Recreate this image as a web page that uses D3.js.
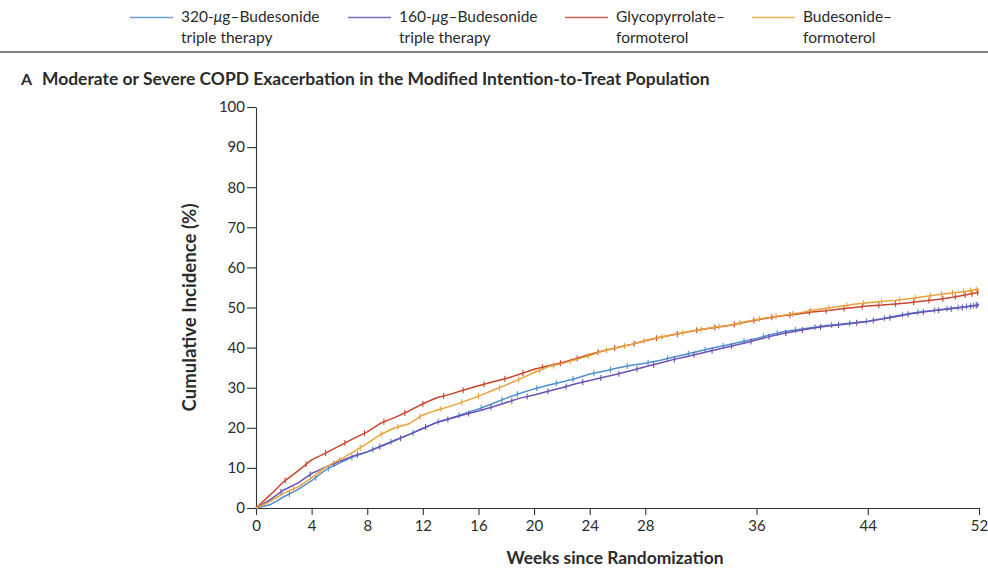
<!DOCTYPE html>
<html>
<head>
<meta charset="utf-8">
<script src="https://cdn.jsdelivr.net/npm/d3@7"></script>
<style>
  body { margin: 0; background: #fff; }
  svg { display: block; }
  text { font-family: Lato, "Open Sans", sans-serif; fill: #2b2b2b; }
</style>
</head>
<body>
<svg id="chart" width="988" height="568"></svg>
<script>
// Weeks since randomization (grid of the estimates below)
const weeks = d3.range(0, 53);

// Cumulative incidence (%) of moderate or severe COPD exacerbation, by week
const bud320Triple = [0, 0.8, 2.8, 4.6, 6.8, 9.5, 11.2, 12.8, 14.0, 15.5, 17.0, 18.3, 19.8, 21.4, 22.4, 23.6, 24.7, 26.0, 27.4, 28.6, 29.7, 30.6, 31.4, 32.3, 33.4, 34.1, 34.9, 35.6, 36.1, 36.8, 37.6, 38.4, 39.2, 40.0, 40.7, 41.5, 42.3, 43.2, 44.0, 44.5, 45.0, 45.5, 45.8, 46.2, 46.6, 47.2, 47.9, 48.5, 49.0, 49.4, 49.8, 50.2, 50.7];
const bud160Triple = [0, 2.0, 4.5, 6.2, 8.6, 10.2, 11.6, 13.0, 14.0, 15.4, 16.8, 18.3, 19.9, 21.3, 22.3, 23.3, 24.2, 25.2, 26.3, 27.4, 28.2, 29.1, 30.0, 31.0, 31.8, 32.6, 33.4, 34.3, 35.2, 36.1, 37.0, 37.8, 38.6, 39.4, 40.2, 41.0, 41.9, 42.8, 43.6, 44.2, 44.8, 45.3, 45.7, 46.1, 46.5, 47.1, 47.7, 48.4, 48.9, 49.3, 49.7, 50.1, 50.6];
const glycoFormo   = [0, 3.2, 6.6, 9.2, 12.0, 13.7, 15.5, 17.3, 19.0, 21.2, 22.6, 24.2, 26.0, 27.5, 28.4, 29.5, 30.5, 31.4, 32.3, 33.4, 34.6, 35.4, 36.2, 37.2, 38.3, 39.2, 40.0, 40.8, 41.7, 42.5, 43.2, 43.9, 44.5, 45.0, 45.5, 46.2, 46.9, 47.5, 48.0, 48.4, 48.9, 49.2, 49.6, 50.0, 50.4, 50.6, 50.9, 51.2, 51.6, 52.0, 52.5, 53.1, 53.8];
const budesoFormo  = [0, 1.6, 3.7, 5.2, 7.5, 10.2, 12.0, 14.0, 16.1, 18.4, 20.0, 21.0, 23.2, 24.4, 25.4, 26.6, 27.9, 29.3, 30.7, 32.2, 33.8, 35.2, 36.0, 37.0, 38.0, 39.2, 40.0, 40.8, 41.8, 42.5, 43.2, 43.9, 44.5, 45.1, 45.6, 46.3, 47.0, 47.6, 48.1, 48.6, 49.3, 49.8, 50.3, 50.8, 51.2, 51.5, 51.8, 52.2, 52.7, 53.2, 53.6, 54.0, 54.6];

// Weeks at which censored observations are marked on each curve
const cens320 = [2.4, 4.3, 5.2, 6.9, 8.4, 9.7, 11.3, 13.1, 14.6, 16.2, 17.7, 18.8, 20.2, 21.6, 22.8, 24.3, 25.5, 26.7, 28.2, 29.6, 31.1, 32.3, 33.6, 35.1, 36.5, 37.5, 38.8, 40.2, 41.4, 42.7, 43.9, 45.2, 46.5, 47.6, 48.8, 49.7, 50.5, 51.1, 51.6, 51.9];
const cens160 = [1.8, 3.9, 5.6, 7.3, 8.9, 10.4, 12.2, 13.8, 15.3, 16.9, 18.4, 19.5, 21.0, 22.3, 23.5, 24.8, 26.1, 27.4, 28.6, 30.1, 31.5, 32.8, 34.2, 35.6, 36.9, 38.1, 39.3, 40.6, 41.9, 43.2, 44.4, 45.6, 46.9, 48.0, 49.1, 50.0, 50.8, 51.4, 51.8];
const censGFF = [2.1, 3.6, 5.0, 6.4, 7.8, 9.2, 10.7, 12.0, 13.5, 14.9, 16.4, 17.9, 19.2, 20.6, 21.9, 23.1, 24.6, 25.8, 27.2, 28.8, 30.3, 31.7, 33.0, 34.4, 35.8, 37.1, 38.4, 39.8, 41.0, 42.3, 43.6, 44.8, 46.0, 47.3, 48.4, 49.4, 50.3, 51.0, 51.5, 51.9];
const censBFF = [2.7, 4.6, 6.0, 7.5, 9.0, 10.2, 11.8, 13.3, 14.8, 16.0, 17.5, 18.9, 20.4, 21.4, 22.6, 23.9, 25.2, 26.5, 27.9, 29.2, 30.7, 32.0, 33.3, 34.8, 36.2, 37.4, 38.6, 39.9, 41.2, 42.5, 43.7, 45.0, 46.3, 47.4, 48.5, 49.3, 50.1, 50.9, 51.4, 51.8];

const xTicks = [0, 4, 8, 12, 16, 20, 24, 28, 36, 44, 52];
const yTicks = [0, 10, 20, 30, 40, 50, 60, 70, 80, 90, 100];

const series = [
  { name: ["320-", "\u03BC", "g\u2013Budesonide"], sub: "triple therapy", values: bud320Triple, cens: cens320, color: "#4f8fcc" },
  { name: ["160-", "\u03BC", "g\u2013Budesonide"], sub: "triple therapy", values: bud160Triple, cens: cens160, color: "#6a52b3" },
  { name: ["Glycopyrrolate\u2013"], sub: "formoterol", values: glycoFormo, cens: censGFF, color: "#c9452c" },
  { name: ["Budesonide\u2013"], sub: "formoterol", values: budesoFormo, cens: censBFF, color: "#e9a23b" }
];

const svg = d3.select("#chart");
const x = d3.scaleLinear().domain([0, 52]).range([256, 979]);
const y = d3.scaleLinear().domain([0, 100]).range([508, 107]);

// Scale a text element's font so that it spans the given width
function fitWidth(sel, baseSize, width) {
  sel.style("font-size", baseSize + "px");
  const w = sel.node().getComputedTextLength();
  sel.style("font-size", (baseSize * width / w).toFixed(2) + "px");
  return sel;
}

// ---- Legend ----
const legendX = [130, 348, 565, 752];
const legend = svg.append("g");
series.forEach((s, i) => {
  const g = legend.append("g").attr("transform", `translate(${legendX[i]},0)`);
  g.append("line").attr("x1", 0).attr("x2", 43).attr("y1", 17.5).attr("y2", 17.5)
    .attr("stroke", s.color).attr("stroke-width", 1.6).attr("opacity", 0.85);
  const t = g.append("text").attr("x", 51).attr("y", 22).style("font-size", "15.5px");
  s.name.forEach(part => {
    const ts = t.append("tspan").text(part);
    if (part === "\u03BC") ts.style("font-style", "italic");
  });
  g.append("text").attr("x", 51).attr("y", 43).style("font-size", "15.5px").text(s.sub);
});
svg.append("line").attr("x1", 0).attr("x2", 988).attr("y1", 52).attr("y2", 52)
  .attr("stroke", "#555").attr("stroke-width", 1.5);

// ---- Panel title ----
svg.append("text").attr("x", 21).attr("y", 85).style("font-size", "16px").style("font-weight", 700).text("A");
const title = svg.append("text").attr("x", 42).attr("y", 85).style("font-weight", 700)
  .text("Moderate or Severe COPD Exacerbation in the Modified Intention-to-Treat Population");
fitWidth(title, 15, 668);

// ---- Axes ----
const yAxis = svg.append("g").attr("transform", `translate(${x(0)},0)`)
  .call(d3.axisLeft(y).tickValues(yTicks).tickSize(9).tickPadding(2).tickSizeOuter(0));
const xAxis = svg.append("g").attr("transform", `translate(0,${y(0)})`)
  .call(d3.axisBottom(x).tickValues(xTicks).tickSize(7).tickPadding(5).tickSizeOuter(0));
[yAxis, xAxis].forEach(a => {
  a.select(".domain").attr("stroke", "#333").attr("stroke-width", 1.1);
  a.selectAll(".tick line").attr("stroke", "#333").attr("stroke-width", 1.1);
  a.selectAll(".tick text").attr("fill", "#2b2b2b").style("font-size", "15px")
    .style("font-family", "Lato, 'Open Sans', sans-serif");
});

const yLabel = svg.append("text").attr("transform", `translate(196,${y(50)}) rotate(-90)`)
  .attr("text-anchor", "middle").style("font-weight", 700)
  .text("Cumulative Incidence (%)");
fitWidth(yLabel, 15, 208);
const xLabel = svg.append("text").attr("x", 615).attr("y", 564).attr("text-anchor", "middle")
  .style("font-weight", 700)
  .text("Weeks since Randomization");
fitWidth(xLabel, 15, 217);

// ---- Curves ----
const plot = svg.append("g");
const line = d3.line().x(d => x(d[0])).y(d => y(d[1])).curve(d3.curveLinear);
series.forEach(s => {
  const pts = weeks.map((w, i) => [w, s.values[i]]);
  plot.append("path").datum(pts).attr("fill", "none").attr("stroke", s.color)
    .attr("stroke-width", 1.5).attr("stroke-linejoin", "round").attr("d", line);
  const onCurve = d3.scaleLinear().domain(weeks).range(s.values);
  plot.append("g").selectAll("line").data(s.cens).join("line")
    .attr("x1", d => x(d)).attr("x2", d => x(d))
    .attr("y1", d => y(onCurve(d)) - 3).attr("y2", d => y(onCurve(d)) + 3)
    .attr("stroke", s.color).attr("stroke-width", 1.1);
});
</script>
</body>
</html>
